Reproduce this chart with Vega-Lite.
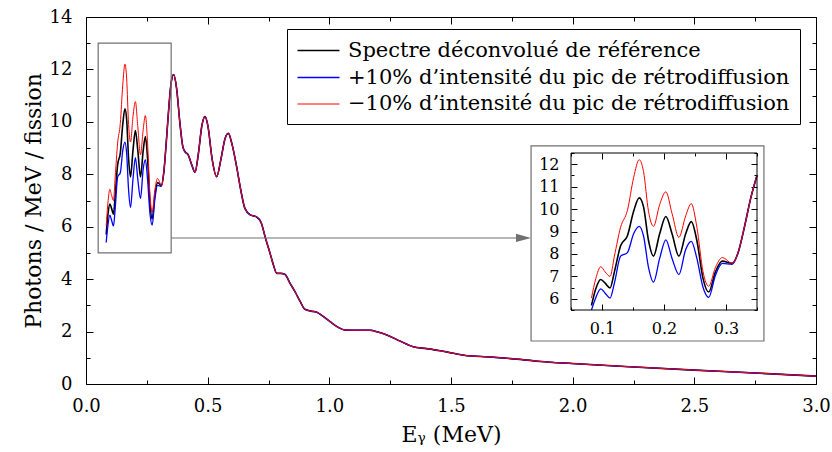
{
  "$schema": "https://vega.github.io/schema/vega-lite/v6.json",
  "width": 730,
  "height": 367,
  "autosize": "none",
  "padding": {"left": 86, "top": 17, "right": 16, "bottom": 68},
  "background": "white",
  "config": {
    "font": "DejaVu Serif",
    "view": {"stroke": "black", "strokeWidth": 1},
    "axis": {
      "domain": false, "tickColor": "black", "labelColor": "black", "titleColor": "black",
      "grid": false, "labelFont": "DejaVu Serif", "titleFont": "DejaVu Serif",
      "titleFontWeight": "normal", "zindex": 1, "tickWidth": 1,
      "labelFlush": false, "labelOverlap": false
    },
    "legend": {
      "orient": "none", "legendX": 201, "legendY": 12,
      "strokeColor": "black", "fillColor": "white", "padding": 10,
      "labelFont": "DejaVu Serif", "labelFontSize": 21, "labelColor": "black",
      "symbolType": "M-2,0H2", "symbolSize": 441, "symbolStrokeWidth": 1.5,
      "symbolOffset": 10, "labelOffset": 18, "rowPadding": 5, "labelLimit": 700
    }
  },
  "data": {
    "values": [
      {"E": 0.083, "ref": 5.70, "plus": 5.40, "minus": 6.03},
      {"E": 0.090, "ref": 6.45, "plus": 6.05, "minus": 6.90},
      {"E": 0.098, "ref": 6.86, "plus": 6.44, "minus": 7.43},
      {"E": 0.105, "ref": 6.70, "plus": 6.25, "minus": 7.20},
      {"E": 0.113, "ref": 6.48, "plus": 6.03, "minus": 7.00},
      {"E": 0.120, "ref": 7.20, "plus": 6.70, "minus": 7.90},
      {"E": 0.130, "ref": 8.36, "plus": 7.90, "minus": 9.19},
      {"E": 0.141, "ref": 8.81, "plus": 8.06, "minus": 9.94},
      {"E": 0.151, "ref": 9.90, "plus": 8.90, "minus": 11.40},
      {"E": 0.160, "ref": 10.50, "plus": 9.23, "minus": 12.20},
      {"E": 0.167, "ref": 10.10, "plus": 8.80, "minus": 11.67},
      {"E": 0.175, "ref": 8.60, "plus": 7.40, "minus": 9.90},
      {"E": 0.183, "ref": 7.90, "plus": 6.74, "minus": 9.23},
      {"E": 0.193, "ref": 8.90, "plus": 7.80, "minus": 10.20},
      {"E": 0.203, "ref": 9.67, "plus": 8.63, "minus": 10.77},
      {"E": 0.213, "ref": 8.90, "plus": 7.80, "minus": 9.80},
      {"E": 0.224, "ref": 7.90, "plus": 7.08, "minus": 8.74},
      {"E": 0.235, "ref": 8.90, "plus": 8.20, "minus": 9.70},
      {"E": 0.244, "ref": 9.44, "plus": 8.56, "minus": 10.24},
      {"E": 0.253, "ref": 8.60, "plus": 7.80, "minus": 9.20},
      {"E": 0.263, "ref": 6.90, "plus": 6.50, "minus": 7.20},
      {"E": 0.272, "ref": 6.30, "plus": 6.06, "minus": 6.56},
      {"E": 0.283, "ref": 7.20, "plus": 7.05, "minus": 7.40},
      {"E": 0.294, "ref": 7.68, "plus": 7.58, "minus": 7.84},
      {"E": 0.310, "ref": 7.58, "plus": 7.54, "minus": 7.58},
      {"E": 0.320, "ref": 8.10, "plus": 8.10, "minus": 8.10},
      {"E": 0.329, "ref": 9.11, "plus": 9.11, "minus": 9.11},
      {"E": 0.340, "ref": 10.50, "plus": 10.50, "minus": 10.50},
      {"E": 0.350, "ref": 11.50, "plus": 11.50, "minus": 11.50},
      {"E": 0.360, "ref": 11.80, "plus": 11.80, "minus": 11.80},
      {"E": 0.372, "ref": 11.30, "plus": 11.30, "minus": 11.30},
      {"E": 0.386, "ref": 9.95, "plus": 9.95, "minus": 9.95},
      {"E": 0.398, "ref": 9.05, "plus": 9.05, "minus": 9.05},
      {"E": 0.407, "ref": 8.86, "plus": 8.86, "minus": 8.86},
      {"E": 0.420, "ref": 8.74, "plus": 8.74, "minus": 8.74},
      {"E": 0.435, "ref": 8.35, "plus": 8.35, "minus": 8.35},
      {"E": 0.448, "ref": 8.08, "plus": 8.08, "minus": 8.08},
      {"E": 0.462, "ref": 8.80, "plus": 8.80, "minus": 8.80},
      {"E": 0.476, "ref": 9.85, "plus": 9.85, "minus": 9.85},
      {"E": 0.489, "ref": 10.20, "plus": 10.20, "minus": 10.20},
      {"E": 0.501, "ref": 9.85, "plus": 9.85, "minus": 9.85},
      {"E": 0.518, "ref": 8.60, "plus": 8.60, "minus": 8.60},
      {"E": 0.537, "ref": 7.91, "plus": 7.91, "minus": 7.91},
      {"E": 0.555, "ref": 8.60, "plus": 8.60, "minus": 8.60},
      {"E": 0.571, "ref": 9.35, "plus": 9.35, "minus": 9.35},
      {"E": 0.585, "ref": 9.56, "plus": 9.56, "minus": 9.56},
      {"E": 0.600, "ref": 9.15, "plus": 9.15, "minus": 9.15},
      {"E": 0.619, "ref": 8.29, "plus": 8.29, "minus": 8.29},
      {"E": 0.636, "ref": 7.40, "plus": 7.40, "minus": 7.40},
      {"E": 0.653, "ref": 6.70, "plus": 6.70, "minus": 6.70},
      {"E": 0.675, "ref": 6.45, "plus": 6.45, "minus": 6.45},
      {"E": 0.700, "ref": 6.38, "plus": 6.38, "minus": 6.38},
      {"E": 0.720, "ref": 6.15, "plus": 6.15, "minus": 6.15},
      {"E": 0.738, "ref": 5.55, "plus": 5.55, "minus": 5.55},
      {"E": 0.756, "ref": 5.00, "plus": 5.00, "minus": 5.00},
      {"E": 0.770, "ref": 4.55, "plus": 4.55, "minus": 4.55},
      {"E": 0.784, "ref": 4.22, "plus": 4.22, "minus": 4.22},
      {"E": 0.800, "ref": 4.22, "plus": 4.22, "minus": 4.22},
      {"E": 0.818, "ref": 4.18, "plus": 4.18, "minus": 4.18},
      {"E": 0.838, "ref": 3.85, "plus": 3.85, "minus": 3.85},
      {"E": 0.859, "ref": 3.52, "plus": 3.52, "minus": 3.52},
      {"E": 0.880, "ref": 3.15, "plus": 3.15, "minus": 3.15},
      {"E": 0.900, "ref": 2.85, "plus": 2.85, "minus": 2.85},
      {"E": 0.925, "ref": 2.78, "plus": 2.78, "minus": 2.78},
      {"E": 0.948, "ref": 2.74, "plus": 2.74, "minus": 2.74},
      {"E": 0.975, "ref": 2.58, "plus": 2.58, "minus": 2.58},
      {"E": 1.003, "ref": 2.38, "plus": 2.38, "minus": 2.38},
      {"E": 1.035, "ref": 2.17, "plus": 2.17, "minus": 2.17},
      {"E": 1.064, "ref": 2.06, "plus": 2.06, "minus": 2.06},
      {"E": 1.115, "ref": 2.05, "plus": 2.05, "minus": 2.05},
      {"E": 1.167, "ref": 2.05, "plus": 2.05, "minus": 2.05},
      {"E": 1.200, "ref": 1.98, "plus": 1.98, "minus": 1.98},
      {"E": 1.236, "ref": 1.87, "plus": 1.87, "minus": 1.87},
      {"E": 1.290, "ref": 1.64, "plus": 1.64, "minus": 1.64},
      {"E": 1.345, "ref": 1.42, "plus": 1.42, "minus": 1.42},
      {"E": 1.400, "ref": 1.35, "plus": 1.35, "minus": 1.35},
      {"E": 1.455, "ref": 1.27, "plus": 1.27, "minus": 1.27},
      {"E": 1.510, "ref": 1.17, "plus": 1.17, "minus": 1.17},
      {"E": 1.565, "ref": 1.08, "plus": 1.08, "minus": 1.08},
      {"E": 1.620, "ref": 1.05, "plus": 1.05, "minus": 1.05},
      {"E": 1.674, "ref": 1.02, "plus": 1.02, "minus": 1.02},
      {"E": 1.730, "ref": 0.98, "plus": 0.98, "minus": 0.98},
      {"E": 1.784, "ref": 0.94, "plus": 0.94, "minus": 0.94},
      {"E": 1.866, "ref": 0.86, "plus": 0.86, "minus": 0.86},
      {"E": 2.000, "ref": 0.78, "plus": 0.78, "minus": 0.78},
      {"E": 2.250, "ref": 0.65, "plus": 0.65, "minus": 0.65},
      {"E": 2.500, "ref": 0.53, "plus": 0.53, "minus": 0.53},
      {"E": 2.750, "ref": 0.42, "plus": 0.42, "minus": 0.42},
      {"E": 3.000, "ref": 0.30, "plus": 0.30, "minus": 0.30}
    ]
  },
  "layer": [
    {
      "data": {"values": [{}]},
      "mark": {"type": "rect", "fill": null, "stroke": "#707070", "strokeWidth": 1.2},
      "encoding": {
        "x": {"datum": 1.829, "type": "quantitative", "scale": {"domain": [0, 3], "nice": false, "zero": false}, "axis": null},
        "x2": {"datum": 2.786},
        "y": {"datum": 1.64, "type": "quantitative", "scale": {"domain": [0, 14], "nice": false, "zero": false}, "axis": null},
        "y2": {"datum": 9.08}
      }
    },
    {
      "transform": [{"fold": ["ref", "plus", "minus"], "as": ["s", "y"]}],
      "mark": {"type": "line", "interpolate": "monotone"},
      "encoding": {
        "x": {
          "field": "E", "type": "quantitative", "scale": {"domain": [0, 3], "nice": false, "zero": false},
          "axis": {
            "orient": "bottom", "offset": -7, "tickSize": 7, "title": "Eᵧ (MeV)", "titleFontSize": 22, "titlePadding": 9,
            "values": [0, 0.5, 1, 1.5, 2, 2.5, 3], "format": ".1f",
            "labelFontSize": 18, "labelPadding": 13
          }
        },
        "y": {
          "field": "y", "type": "quantitative", "scale": {"domain": [0, 14], "nice": false, "zero": false},
          "axis": {
            "orient": "left", "offset": -7, "tickSize": 7, "title": "Photons / MeV / fission", "titleFontSize": 22, "titlePadding": 4,
            "values": [0, 2, 4, 6, 8, 10, 12, 14], "format": "d",
            "labelFontSize": 18, "labelPadding": 14
          }
        },
        "color": {
          "field": "s", "type": "nominal",
          "scale": {"domain": ["ref", "plus", "minus"], "range": ["black", "#0000ff", "#ff0000"]},
          "legend": {
            "title": null,
            "labelExpr": "datum.value == 'ref' ? 'Spectre déconvolué de référence' : datum.value == 'plus' ? '+10% d’intensité du pic de rétrodiffusion' : '−10% d’intensité du pic de rétrodiffusion'"
          }
        },
        "strokeWidth": {
          "field": "s", "type": "nominal",
          "scale": {"domain": ["ref", "plus", "minus"], "range": [1.6, 1, 1]},
          "legend": null
        }
      }
    },
    {
      "data": {"values": [{}]},
      "mark": {"type": "rect", "fill": null, "stroke": "#707070", "strokeWidth": 1.2},
      "encoding": {
        "x": {"datum": 0.05, "type": "quantitative", "scale": {"domain": [0, 3], "nice": false, "zero": false}, "axis": {
          "orient": "top", "offset": -7, "tickSize": 7, "title": null, "labels": false,
          "values": [0, 0.5, 1, 1.5, 2, 2.5, 3]
        }},
        "x2": {"datum": 0.35},
        "y": {"datum": 5.0, "type": "quantitative", "scale": {"domain": [0, 14], "nice": false, "zero": false}, "axis": {
          "orient": "right", "offset": -7, "tickSize": 7, "title": null, "labels": false,
          "values": [0, 2, 4, 6, 8, 10, 12, 14]
        }},
        "y2": {"datum": 13.0}
      }
    },
    {
      "data": {"values": [{}]},
      "mark": {"type": "rule", "stroke": "#707070", "strokeWidth": 1.2},
      "encoding": {
        "x": {"datum": 0.35, "type": "quantitative", "scale": {"domain": [0, 3], "nice": false, "zero": false}, "axis": {
          "orient": "bottom", "offset": -4, "tickSize": 4, "title": null, "labels": false,
          "values": [0.25, 0.75, 1.25, 1.75, 2.25, 2.75]
        }},
        "x2": {"datum": 1.80},
        "y": {"datum": 5.57, "type": "quantitative", "scale": {"domain": [0, 14], "nice": false, "zero": false}, "axis": {
          "orient": "left", "offset": -4, "tickSize": 4, "title": null, "labels": false,
          "values": [1, 3, 5, 7, 9, 11, 13]
        }}
      }
    },
    {
      "data": {"values": [{}]},
      "mark": {"type": "point", "shape": "M-1,-0.55L1,0L-1,0.55Z", "filled": true, "color": "#707070", "size": 225, "opacity": 1},
      "encoding": {
        "x": {"datum": 1.798, "type": "quantitative", "scale": {"domain": [0, 3], "nice": false, "zero": false}, "axis": {
          "orient": "top", "offset": -4, "tickSize": 4, "title": null, "labels": false,
          "values": [0.25, 0.75, 1.25, 1.75, 2.25, 2.75]
        }},
        "y": {"datum": 5.57, "type": "quantitative", "scale": {"domain": [0, 14], "nice": false, "zero": false}, "axis": {
          "orient": "right", "offset": -4, "tickSize": 4, "title": null, "labels": false,
          "values": [1, 3, 5, 7, 9, 11, 13]
        }}
      }
    },
    {
      "transform": [
        {"filter": "datum.E <= 0.3501"},
        {"fold": ["ref", "plus", "minus"], "as": ["s", "y"]}
      ],
      "mark": {"type": "line", "interpolate": "monotone"},
      "encoding": {
        "x": {
          "field": "E", "type": "quantitative",
          "scale": {"domain": [0.05, 0.35], "range": [485, 671], "clamp": true, "nice": false, "zero": false},
          "axis": {
            "orient": "bottom", "offset": -80, "tickSize": 6, "title": null,
            "values": [0.1, 0.2, 0.3], "format": ".1f",
            "labelFontSize": 16, "labelPadding": 10
          }
        },
        "y": {
          "field": "y", "type": "quantitative",
          "scale": {"domain": [5.5, 12.5], "range": [293, 136], "clamp": true, "nice": false, "zero": false},
          "axis": {
            "orient": "left", "offset": -491, "tickSize": 6, "title": null,
            "values": [6, 7, 8, 9, 10, 11, 12], "format": "d",
            "labelFontSize": 16, "labelPadding": 12
          }
        },
        "color": {"field": "s", "type": "nominal"},
        "strokeWidth": {"field": "s", "type": "nominal", "legend": null}
      }
    },
    {
      "data": {"values": [{}]},
      "mark": {"type": "rect", "fill": null, "stroke": "black", "strokeWidth": 1},
      "encoding": {
        "x": {"datum": 0.05, "type": "quantitative",
          "scale": {"domain": [0.05, 0.35], "range": [485, 671], "nice": false, "zero": false},
          "axis": {"orient": "top", "offset": -142, "tickSize": 6, "title": null, "labels": false,
            "values": [0.1, 0.2, 0.3]}},
        "x2": {"datum": 0.35},
        "y": {"datum": 5.5, "type": "quantitative",
          "scale": {"domain": [5.5, 12.5], "range": [293, 136], "nice": false, "zero": false},
          "axis": {"orient": "right", "offset": -65, "tickSize": 6, "title": null, "labels": false,
            "values": [6, 7, 8, 9, 10, 11, 12]}},
        "y2": {"datum": 12.5}
      }
    },
    {
      "data": {"values": [{}]},
      "mark": {"type": "rect", "fill": null, "stroke": null},
      "encoding": {
        "x": {"datum": 0.1, "type": "quantitative",
          "scale": {"domain": [0.05, 0.35], "range": [485, 671], "nice": false, "zero": false},
          "axis": {"orient": "bottom", "offset": -77, "tickSize": 3, "title": null, "labels": false,
            "values": [0.05, 0.15, 0.25, 0.35]}},
        "x2": {"datum": 0.2},
        "y": {"datum": 7, "type": "quantitative",
          "scale": {"domain": [5.5, 12.5], "range": [293, 136], "nice": false, "zero": false},
          "axis": {"orient": "left", "offset": -488, "tickSize": 3, "title": null, "labels": false,
            "values": [5.5, 6.5, 7.5, 8.5, 9.5, 10.5, 11.5, 12.5]}},
        "y2": {"datum": 8}
      }
    },
    {
      "data": {"values": [{}]},
      "mark": {"type": "rect", "fill": null, "stroke": null},
      "encoding": {
        "x": {"datum": 0.1, "type": "quantitative",
          "scale": {"domain": [0.05, 0.35], "range": [485, 671], "nice": false, "zero": false},
          "axis": {"orient": "top", "offset": -139, "tickSize": 3, "title": null, "labels": false,
            "values": [0.05, 0.15, 0.25, 0.35]}},
        "x2": {"datum": 0.2},
        "y": {"datum": 7, "type": "quantitative",
          "scale": {"domain": [5.5, 12.5], "range": [293, 136], "nice": false, "zero": false},
          "axis": {"orient": "right", "offset": -62, "tickSize": 3, "title": null, "labels": false,
            "values": [5.5, 6.5, 7.5, 8.5, 9.5, 10.5, 11.5, 12.5]}},
        "y2": {"datum": 8}
      }
    }
  ],
  "resolve": {"scale": {"x": "independent", "y": "independent"}}
}
